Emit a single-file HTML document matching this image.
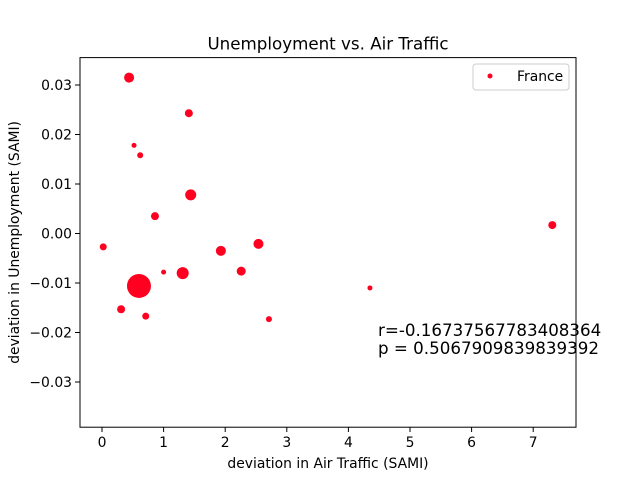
<!DOCTYPE html>
<html><head><meta charset="utf-8"><style>
body{margin:0;background:#fff}
svg{font-family:"DejaVu Sans","Liberation Sans",sans-serif}
</style></head><body>
<svg id="c" width="640" height="480" viewBox="0 0 640 480">
<rect width="640" height="480" fill="#fff"/>
<text x="328" y="49.5" text-anchor="middle" font-size="16.7">Unemployment vs. Air Traffic</text>
<g id="marks"></g>
<rect x="80" y="57.6" width="496" height="369.6" fill="none" stroke="#000" stroke-width="1"/>
<g id="xt"></g><g id="yt"></g>
<text x="328" y="468" text-anchor="middle" font-size="13.9">deviation in Air Traffic (SAMI)</text>
<text transform="translate(19,242.4) rotate(-90)" text-anchor="middle" font-size="13.9">deviation in Unemployment (SAMI)</text>
<text x="378" y="336" font-size="16.7">r=-0.16737567783408364</text>
<text x="378" y="354" font-size="16.7">p = 0.5067909839839392</text>
<g>
<rect x="473" y="64" width="96" height="26" rx="3" fill="#fff" stroke="#ccc" stroke-width="1"/>
<circle cx="490" cy="76" r="2.5" fill="#ff0020"/>
<text x="517" y="81" font-size="13.9">France</text>
</g>
</svg>
<script>
const xs=[0.44,1.41,0.52,0.62,1.44,0.86,0.02,7.31,1.93,2.54,2.26,1.31,1.0,0.60,4.35,0.31,0.71,2.71];
const ys=[0.0315,0.0243,0.0178,0.0158,0.0078,0.0035,-0.0027,0.0017,-0.0035,-0.0021,-0.0076,-0.008,-0.0078,-0.0106,-0.011,-0.0153,-0.0167,-0.0173];
const sizes=[5,4,2.5,3,5.5,4,3.5,4,5,5,4.5,6,2.5,12,2.5,4,3.5,3];
const xTicks=[0,1,2,3,4,5,6,7];
const yTicks=[-0.03,-0.02,-0.01,0,0.01,0.02,0.03];
const yLabels=["\u22120.03","\u22120.02","\u22120.01","0.00","0.01","0.02","0.03"];
const X=v=>102+v*61.6, Y=v=>233.5-v*4950;
const ns="http://www.w3.org/2000/svg";
function mk(t,a,p){const e=document.createElementNS(ns,t);for(const k in a)e.setAttribute(k,a[k]);p.appendChild(e);return e;}
const m=document.getElementById('marks');
xs.forEach((x,i)=>{const c=mk('circle',{cx:X(x),cy:Y(ys[i]),r:sizes[i],fill:'#ff0020'},m);

});
const xt=document.getElementById('xt');
xTicks.forEach(t=>{mk('line',{x1:X(t),x2:X(t),y1:427.2,y2:432,stroke:'#000','stroke-width':1},xt);
const tx=mk('text',{x:X(t),y:447,'text-anchor':'middle','font-size':13.9},xt);tx.textContent=t;

});
const yt=document.getElementById('yt');
yTicks.forEach((t,i)=>{mk('line',{x1:75,x2:80,y1:Y(t),y2:Y(t),stroke:'#000','stroke-width':1},yt);
const tx=mk('text',{x:72,y:Y(t)+5,'text-anchor':'end','font-size':13.9},yt);tx.textContent=yLabels[i];

});
</script>
</body></html>
